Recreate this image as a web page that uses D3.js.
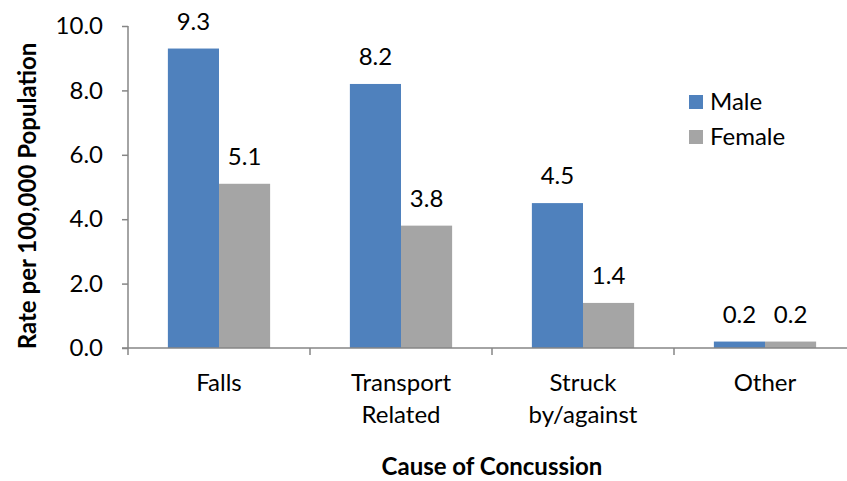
<!DOCTYPE html>
<html>
<head>
<meta charset="utf-8">
<script src="https://cdn.jsdelivr.net/npm/d3@7"></script>
<style>
  body { margin: 0; background: #fff; }
  svg text { font-family: Lato, "Open Sans", sans-serif; fill: #000; }
</style>
</head>
<body>
<script>
let causes = [["Falls"], ["Transport", "Related"], ["Struck", "by/against"], ["Other"]];
let series = ["Male", "Female"];
let male = [9.3, 8.2, 4.5, 0.2];
let female = [5.1, 3.8, 1.4, 0.2];
let yTicks = [0, 2, 4, 6, 8, 10];

let w = 847;
let h = 481;
let fs = 24;
let colors = {Male: "#4f81bd", Female: "#a5a5a5"};

let rows = causes.map((c, i) => ({cause: c.join(" "), lines: c, Male: male[i], Female: female[i]}));

let svg = d3.select("body")
  .append("svg")
  .attr("width", w)
  .attr("height", h);

let xScale = d3.scaleBand()
  .domain(rows.map(d => d.cause))
  .range([128, 856]);

let xInner = d3.scaleBand()
  .domain(series)
  .range([0, xScale.bandwidth()])
  .paddingInner(0)
  .paddingOuter(0.78);

let yScale = d3.scaleLinear()
  .domain([0, 10])
  .range([348, 26]);

// y axis
let yAxis = d3.axisLeft(yScale)
  .tickValues(yTicks)
  .tickSize(6)
  .tickFormat(d3.format(".1f"));

let gy = svg.append("g")
  .attr("transform", "translate(128,0)")
  .call(yAxis);
gy.select(".domain").attr("stroke", "#868686").attr("stroke-width", 1.5).attr("d", "M0,26V348");
gy.selectAll(".tick line").attr("stroke", "#868686").attr("stroke-width", 1.5);
gy.selectAll(".tick text")
  .attr("x", -25)
  .attr("font-size", fs)
  .attr("font-family", "Lato, sans-serif");

// bars
let groups = svg.selectAll("g.cat")
  .data(rows)
  .enter()
  .append("g")
  .attr("class", "cat")
  .attr("transform", d => "translate(" + xScale(d.cause) + ",0)");

groups.selectAll("rect")
  .data(d => series.map(s => ({key: s, value: d[s]})))
  .enter()
  .append("rect")
  .attr("x", d => xInner(d.key))
  .attr("y", d => yScale(d.value))
  .attr("width", xInner.bandwidth())
  .attr("height", d => yScale(0) - yScale(d.value))
  .attr("fill", d => colors[d.key]);

groups.selectAll("text.val")
  .data(d => series.map(s => ({key: s, value: d[s]})))
  .enter()
  .append("text")
  .attr("class", "val")
  .attr("x", d => xInner(d.key) + xInner.bandwidth() / 2)
  .attr("y", d => yScale(d.value) - 19)
  .attr("text-anchor", "middle")
  .attr("font-size", fs)
  .text(d => d.value.toFixed(1));

// x axis
let xAxis = d3.axisBottom(xScale).tickSize(0).tickFormat("");
let gx = svg.append("g")
  .attr("transform", "translate(0,348)")
  .call(xAxis);
gx.select(".domain").attr("stroke", "#868686").attr("stroke-width", 1.5).attr("d", "M122,0H856");

// category separator ticks
svg.selectAll("line.sep")
  .data(rows)
  .enter()
  .append("line")
  .attr("class", "sep")
  .attr("x1", d => xScale(d.cause))
  .attr("x2", d => xScale(d.cause))
  .attr("y1", 348)
  .attr("y2", 355)
  .attr("stroke", "#868686")
  .attr("stroke-width", 1.5);

// category labels
let labels = svg.selectAll("text.cat")
  .data(rows)
  .enter()
  .append("text")
  .attr("class", "cat")
  .attr("text-anchor", "middle")
  .attr("font-size", fs)
  .attr("y", 391);
labels.selectAll("tspan")
  .data(d => d.lines.map(l => ({l: l, x: xScale(d.cause) + xScale.bandwidth() / 2})))
  .enter()
  .append("tspan")
  .attr("x", d => d.x)
  .attr("dy", (d, i) => i === 0 ? 0 : 32)
  .text(d => d.l);

// axis titles
svg.append("text")
  .attr("x", 492)
  .attr("y", 475)
  .attr("text-anchor", "middle")
  .attr("font-size", fs)
  .attr("font-weight", "bold")
  .text("Cause of Concussion");

svg.append("text")
  .attr("transform", "translate(36,196) rotate(-90)")
  .attr("text-anchor", "middle")
  .attr("font-size", fs)
  .attr("font-weight", "bold")
  .text("Rate per 100,000 Population");

// legend
let legend = svg.selectAll("g.legend")
  .data(series)
  .enter()
  .append("g")
  .attr("class", "legend")
  .attr("transform", (d, i) => "translate(689," + (95 + i * 35) + ")");
legend.append("rect")
  .attr("width", 14)
  .attr("height", 14)
  .attr("fill", d => colors[d]);
legend.append("text")
  .attr("x", 21)
  .attr("y", 15)
  .attr("font-size", fs)
  .text(d => d);
</script>
</body>
</html>
